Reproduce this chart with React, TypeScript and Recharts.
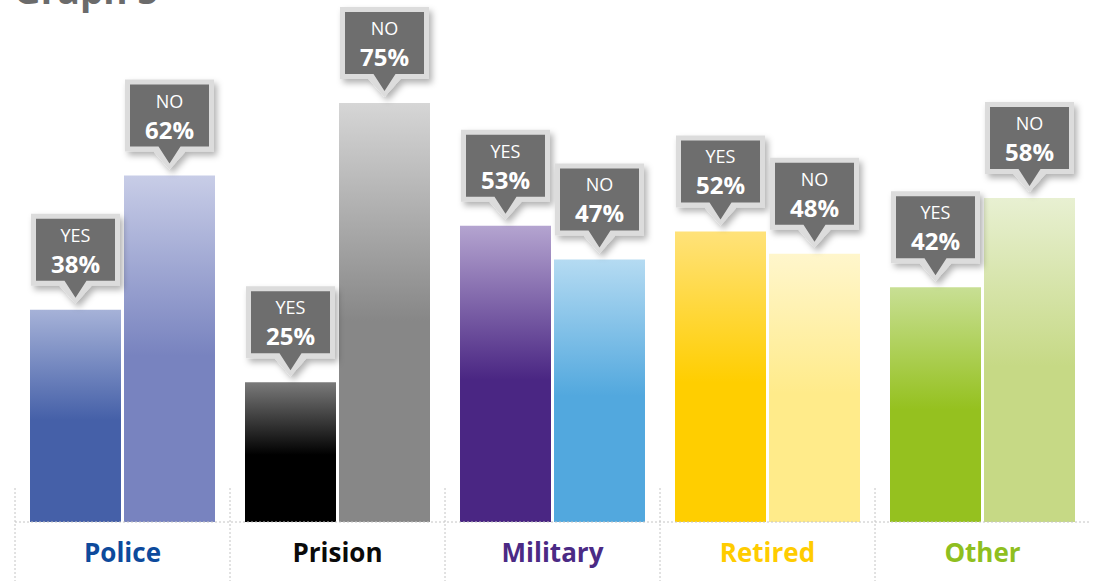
import React from 'react';
import { BarChart, Bar, XAxis, YAxis, Cell, LabelList } from 'recharts';

const CATEGORIES = ['Police', 'Prision', 'Military', 'Retired', 'Other'];
const YES_VALUES = [38, 25, 53, 52, 42];
const NO_VALUES = [62, 75, 47, 48, 58];
const CATEGORY_COLORS = ['#0d4a9c', '#0a0a0a', '#4b2a85', '#ffcc00', '#8fbf1f'];
const YES_TOP = ['#a6b2d8', '#7a7a7a', '#b4a4d0', '#ffe27a', '#c8df94'];
const YES_BOTTOM = ['#4560a8', '#000000', '#4a2683', '#ffce00', '#95c11f'];
const NO_TOP = ['#c8cde7', '#d6d6d6', '#b5dbf2', '#fff6cc', '#e8f0d2'];
const NO_BOTTOM = ['#7883bf', '#878787', '#52a8de', '#ffeb8a', '#c6d985'];

const data = CATEGORIES.map((name, i) => ({ name, yes: YES_VALUES[i], no: NO_VALUES[i] }));

const FONT = '"Open Sans", "Noto Sans", sans-serif';

function makeCallout(word: string) {
  return (props: any) => {
    const { x, y, width, value } = props;
    const cx = x + width / 2;
    const ty = y;
    const oL = cx - 44.5, oR = cx + 44.5, oT = ty - 96, oB = ty - 24;
    const iL = cx - 39.5, iR = cx + 39.5, iT = ty - 91, iB = ty - 29;
    const outer = `M${oL},${oT} L${oR},${oT} L${oR},${oB} L${cx + 16},${oB} L${cx},${ty - 6} L${cx - 16},${oB} L${oL},${oB} Z`;
    const inner = `M${iL},${iT} L${iR},${iT} L${iR},${iB} L${cx + 11},${iB} L${cx},${ty - 12} L${cx - 11},${iB} L${iL},${iB} Z`;
    return (
      <g>
        <path d={outer} fill="#dcdcdc" filter="url(#calloutShadow)" />
        <path d={inner} fill="#6e6e6e" />
        <text x={cx} y={ty - 68} textAnchor="middle" fill="#ffffff" fontFamily={FONT} fontSize={18}>
          {word}
        </text>
        <text x={cx} y={ty - 37} textAnchor="middle" fill="#ffffff" fontFamily={FONT} fontSize={24} fontWeight={700}>
          {`${value}%`}
        </text>
      </g>
    );
  };
}

function CategoryTick(props: any) {
  const { x, y, payload, index } = props;
  const half = payload && payload.offset ? payload.offset : 107.5;
  const left = x - half;
  return (
    <g>
      <line x1={left} x2={left} y1={488} y2={581} stroke="#c4c4c4" strokeDasharray="2 2" />
      <text
        x={x}
        y={y}
        dy={32}
        textAnchor="middle"
        fill={CATEGORY_COLORS[index]}
        fontFamily={FONT}
        fontSize={26}
        fontWeight={700}
      >
        {payload.value}
      </text>
    </g>
  );
}

export default function App() {
  return (
    <div style={{ position: 'absolute', left: 0, top: 0, width: 1100, height: 581, background: '#fff', overflow: 'hidden' }}>
      <div
        style={{
          position: 'absolute',
          left: 14,
          top: -30,
          fontFamily: FONT,
          fontWeight: 700,
          fontSize: 37,
          lineHeight: '40px',
          color: '#6b6b6b',
        }}
      >
        Graph 5
      </div>
      <BarChart
        width={1100}
        height={581}
        data={data}
        margin={{ top: 75, right: 10, left: 15, bottom: 0 }}
        barCategoryGap={15}
        barGap={3}
      >
        <defs>
          <filter id="calloutShadow" x="-30%" y="-30%" width="160%" height="160%">
            <feDropShadow dx={3} dy={4} stdDeviation={3} floodColor="#000" floodOpacity={0.3} />
          </filter>
          {CATEGORIES.map((c, i) => (
            <linearGradient key={`y${c}`} id={`yes-${i}`} x1="0" y1="0" x2="0" y2="1">
              <stop offset="0%" stopColor={YES_TOP[i]} />
              <stop offset="52%" stopColor={YES_BOTTOM[i]} />
              <stop offset="100%" stopColor={YES_BOTTOM[i]} />
            </linearGradient>
          ))}
          {CATEGORIES.map((c, i) => (
            <linearGradient key={`n${c}`} id={`no-${i}`} x1="0" y1="0" x2="0" y2="1">
              <stop offset="0%" stopColor={NO_TOP[i]} />
              <stop offset="52%" stopColor={NO_BOTTOM[i]} />
              <stop offset="100%" stopColor={NO_BOTTOM[i]} />
            </linearGradient>
          ))}
        </defs>
        <YAxis hide domain={[0, 80]} />
        <XAxis
          dataKey="name"
          height={59}
          axisLine={{ stroke: '#c4c4c4', strokeDasharray: '2 2' }}
          tickLine={false}
          tick={<CategoryTick />}
          interval={0}
        />
        <Bar dataKey="yes" isAnimationActive={false}>
          {data.map((d, i) => (
            <Cell key={d.name} fill={`url(#yes-${i})`} />
          ))}
          <LabelList dataKey="yes" content={makeCallout('YES')} />
        </Bar>
        <Bar dataKey="no" isAnimationActive={false}>
          {data.map((d, i) => (
            <Cell key={d.name} fill={`url(#no-${i})`} />
          ))}
          <LabelList dataKey="no" content={makeCallout('NO')} />
        </Bar>
      </BarChart>
    </div>
  );
}
